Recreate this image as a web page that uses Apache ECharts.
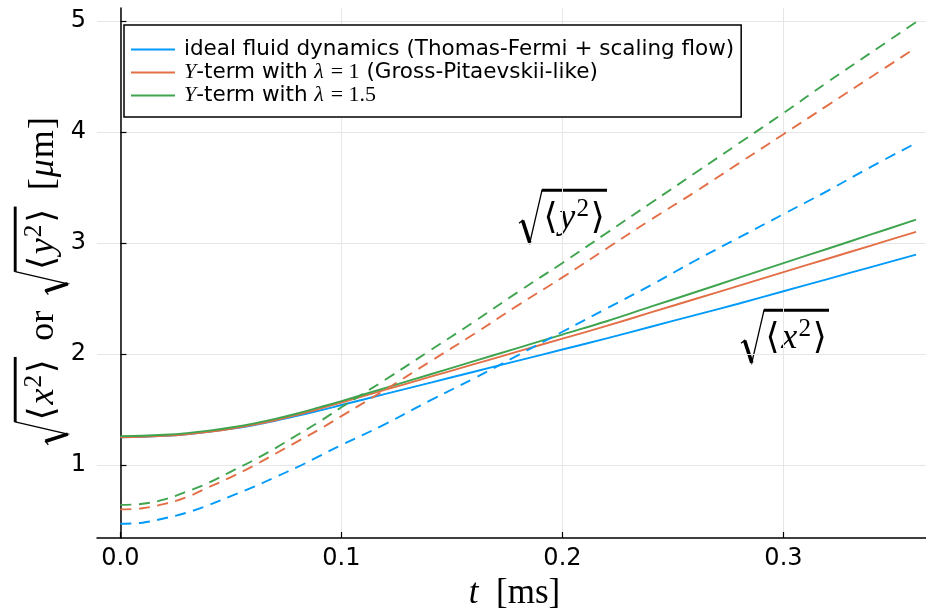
<!DOCTYPE html>
<html>
<head>
<meta charset="utf-8">
<script src="https://cdn.jsdelivr.net/npm/echarts@6/dist/echarts.min.js"></script>
<style>
  html, body { margin: 0; padding: 0; background: #fff; }
  #main { width: 926px; height: 614px; }
</style>
</head>
<body>
<div id="main"></div>
<script>
// time in ms (denser at the start where the curves bend)
var times = [0, 0.01, 0.02, 0.03, 0.04, 0.05, 0.06, 0.07, 0.08, 0.09, 0.10,
             0.12, 0.14, 0.16, 0.18, 0.20, 0.22, 0.24, 0.26, 0.28, 0.30, 0.32, 0.34, 0.36];
// sqrt(<x^2>) in um (solid)
var xIdeal = [1.250, 1.253, 1.262, 1.277, 1.298, 1.325, 1.358, 1.397, 1.442, 1.490, 1.540,
              1.640, 1.740, 1.840, 1.940, 2.040, 2.140, 2.245, 2.350, 2.455, 2.565, 2.675, 2.785, 2.895];
var xLam1  = [1.250, 1.253, 1.262, 1.277, 1.298, 1.326, 1.361, 1.403, 1.452, 1.506, 1.563,
              1.678, 1.793, 1.908, 2.023, 2.138, 2.253, 2.374, 2.495, 2.616, 2.737, 2.858, 2.979, 3.100];
var xLam15 = [1.260, 1.263, 1.272, 1.287, 1.309, 1.338, 1.373, 1.415, 1.464, 1.519, 1.575,
              1.695, 1.815, 1.935, 2.055, 2.175, 2.295, 2.426, 2.556, 2.687, 2.818, 2.948, 3.079, 3.210];
// sqrt(<y^2>) in um (dashed)
var yIdeal = [0.47, 0.48, 0.52, 0.57, 0.64, 0.72, 0.80, 0.89, 0.98, 1.08, 1.18,
              1.37, 1.58, 1.78, 1.99, 2.20, 2.41, 2.62, 2.84, 3.05, 3.26, 3.47, 3.69, 3.90];
var yLam1  = [0.60, 0.61, 0.65, 0.71, 0.80, 0.89, 0.99, 1.10, 1.21, 1.32, 1.44,
              1.68, 1.93, 2.18, 2.44, 2.69, 2.95, 3.21, 3.46, 3.72, 3.98, 4.24, 4.50, 4.76];
var yLam15 = [0.64, 0.65, 0.69, 0.76, 0.84, 0.94, 1.04, 1.15, 1.27, 1.39, 1.52,
              1.77, 2.03, 2.29, 2.56, 2.82, 3.09, 3.36, 3.63, 3.90, 4.17, 4.45, 4.72, 4.99];

var xTicks = [0, 0.1, 0.2, 0.3];
var yTicks = [1, 2, 3, 4, 5];

var BLUE = '#009AFA', ORANGE = '#E36F47', GREEN = '#3EA44E';
var SERIF = "'Liberation Serif', 'DejaVu Serif', serif";
var SANS = "'DejaVu Sans', sans-serif";

function pairs(ys) {
    return times.map(function (t, i) { return [t, ys[i]]; });
}

// small helper to lay out  sqrt(<x^2>) style labels as graphic pieces
var ctx = document.createElement('canvas').getContext('2d');
function textW(font, s) { ctx.font = font; return ctx.measureText(s).width; }

function mathRow(items, s, kids, x) {
    items.forEach(function (it) {
        if (it.gap) { x += it.gap * s; return; }
        if (it.sqrt) {
            var x0 = x;
            x += 0.68 * s;
            x = mathRow(it.sqrt, s, kids, x);
            x += 0.06 * s;
            var top = -0.8 * s;
            kids.push({ type: 'polyline',
                shape: { points: [[x0, 0.12 * s], [x0 + 0.1 * s, 0.04 * s], [x0 + 0.3 * s, 0.66 * s], [x0 + 0.64 * s, top]] },
                style: { stroke: '#000', lineWidth: 1.3 } });
            kids.push({ type: 'line',
                shape: { x1: x0 + 0.1 * s, y1: 0.04 * s, x2: x0 + 0.3 * s, y2: 0.66 * s },
                style: { stroke: '#000', lineWidth: 0.1 * s } });
            kids.push({ type: 'line',
                shape: { x1: x0 + 0.63 * s, y1: top, x2: x, y2: top },
                style: { stroke: '#000', lineWidth: 0.08 * s } });
            return;
        }
        var size = it.sup ? 0.7 * s : s;
        var font = (it.i ? 'italic ' : '') + size + 'px ' + SERIF;
        kids.push({ type: 'text', x: x, y: it.sup ? -0.27 * s : 0,
            style: { text: it.t, font: font, fill: '#000', align: 'left', verticalAlign: 'middle' } });
        x += textW(font, it.t) + (it.pad || 0) * s;
    });
    return x;
}

function mathGroup(items, s) {
    var kids = [];
    var w = mathRow(items, s, kids, 0);
    return { kids: kids, w: w };
}

var sqX = { sqrt: [{ t: '⟨', pad: 0.05 }, { t: 'x', i: 1, pad: 0.03 }, { t: '2', sup: 1, pad: 0.05 }, { t: '⟩' }] };
var sqY = { sqrt: [{ t: '⟨', pad: 0.05 }, { t: 'y', i: 1, pad: 0.03 }, { t: '2', sup: 1, pad: 0.05 }, { t: '⟩' }] };

var yTitle = mathGroup([sqX, { gap: 0.45 }, { t: 'or' }, { gap: 0.45 }, sqY, { gap: 0.45 },
    { t: '[', pad: 0.03 }, { t: 'μ', i: 1, pad: 0.03 }, { t: 'm', pad: 0.03 }, { t: ']' }], 36);
var yLabel = mathGroup([sqY], 36);
var xLabel = mathGroup([sqX], 36);

var legendLabels = {
    'ideal': 'ideal fluid dynamics (Thomas-Fermi + scaling flow)',
    'lam1': '{i|Y}-term with {i|λ} {n|= 1} (Gross-Pitaevskii-like)',
    'lam15': '{i|Y}-term with {i|λ} {n|= 1.5}'
};

var dom = document.getElementById('main');
var myChart = echarts.init(dom, null, { renderer: 'canvas' });

function line(name, ys, color, dashed) {
    return {
        name: name,
        type: 'line',
        data: pairs(ys),
        smooth: 0.4,
        symbol: 'none',
        lineStyle: { color: color, width: 1.9, type: dashed ? [11, 7.5] : 'solid' },
        itemStyle: { color: color },
        z: 2
    };
}

var option = {
    animation: false,
    backgroundColor: '#fff',
    grid: { left: 97, right: 0, top: 8, bottom: 76, containLabel: false, outerBoundsMode: 'none' },
    legend: {
        data: ['ideal', 'lam1', 'lam15'],
        orient: 'vertical',
        left: 124,
        top: 25,
        padding: [13, 7, 10, 7],
        itemGap: 0,
        itemWidth: 44,
        itemHeight: 2,
        icon: 'rect',
        backgroundColor: '#fff',
        borderColor: '#000',
        borderWidth: 1.5,
        borderRadius: 0,
        formatter: function (name) { return legendLabels[name]; },
        textStyle: {
            fontFamily: SANS,
            fontSize: 21.5,
            color: '#000',
            lineHeight: 23,
            padding: [0, 0, 0, 4],
            rich: {
                i: { fontFamily: SERIF, fontStyle: 'italic', fontSize: 22, lineHeight: 23, color: '#000' },
                n: { fontFamily: SERIF, fontSize: 22, lineHeight: 23, color: '#000' }
            }
        }
    },
    xAxis: {
        type: 'value',
        min: -0.0106,
        max: 0.3645,
        name: '{i|t}  [ms]',
        nameLocation: 'middle',
        nameGap: 34,
        nameTextStyle: {
            fontFamily: SERIF, fontSize: 35, color: '#000', padding: [0, 0, 0, 6],
            rich: { i: { fontFamily: SERIF, fontStyle: 'italic', fontSize: 35, color: '#000' } }
        },
        axisLine: { lineStyle: { color: '#000', width: 1.5 } },
        axisTick: { inside: true, length: 6, lineStyle: { color: '#000', width: 1.2 }, customValues: xTicks },
        axisLabel: {
            customValues: xTicks,
            margin: 9,
            fontFamily: SANS, fontSize: 24, color: '#000',
            formatter: function (v) { return v.toFixed(1); }
        },
        splitLine: { show: true, lineStyle: { color: '#e6e6e6', width: 1 } }
    },
    yAxis: {
        type: 'value',
        min: 0.342,
        max: 5.117,
        axisLine: { show: true, lineStyle: { color: '#000', width: 1.5 } },
        axisTick: { show: true, inside: true, length: 6, lineStyle: { color: '#000', width: 1.2 }, customValues: yTicks },
        axisLabel: {
            customValues: yTicks,
            margin: 11,
            fontFamily: SANS, fontSize: 24, color: '#000'
        },
        splitLine: { show: true, lineStyle: { color: '#e6e6e6', width: 1 } }
    },
    graphic: [
        { type: 'group', x: 44, y: 281 + yTitle.w / 2, rotation: Math.PI / 2, children: yTitle.kids },
        { type: 'group', x: 519, y: 219, children: yLabel.kids },
        { type: 'group', x: 741, y: 339, children: xLabel.kids }
    ],
    series: [
        line('ideal', xIdeal, BLUE, false),
        line('lam1', xLam1, ORANGE, false),
        line('lam15', xLam15, GREEN, false),
        line('ideal-y', yIdeal, BLUE, true),
        line('lam1-y', yLam1, ORANGE, true),
        line('lam15-y', yLam15, GREEN, true)
    ]
};

if (option && typeof option === 'object') {
    myChart.setOption(option, true);
}
</script>
</body>
</html>
